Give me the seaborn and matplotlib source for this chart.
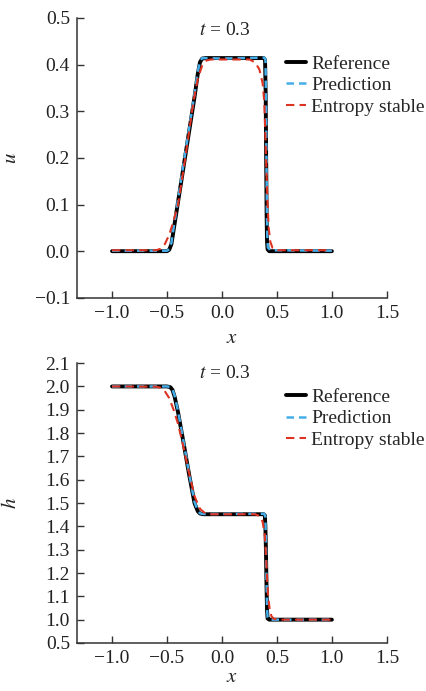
import numpy as np
import pandas as pd
import matplotlib
matplotlib.use('Agg')
import matplotlib.pyplot as plt
import seaborn as sns

# --- values (t = 0.3) ---
# velocity u
u_ref_x = [-1.0, -0.50, -0.48, -0.46, -0.44, -0.40, -0.35, -0.30, -0.25, -0.22, -0.20, -0.18, -0.15,
           0.38, 0.392, 0.398, 0.402, 0.406, 0.41, 0.415, 0.43, 1.0]
u_ref_y = [0.0, 0.0, 0.003, 0.015, 0.045, 0.105, 0.18, 0.255, 0.33, 0.38, 0.405, 0.413, 0.414,
           0.414, 0.41, 0.33, 0.2, 0.08, 0.02, 0.004, 0.0, 0.0]
u_pred_x = [-1.0, -0.50, -0.48, -0.46, -0.44, -0.40, -0.35, -0.30, -0.25, -0.22, -0.20, -0.18, 0.0,
            0.385, 0.396, 0.401, 0.405, 0.409, 0.413, 0.418, 0.44, 1.0]
u_pred_y = [0.001, 0.001, 0.004, 0.018, 0.05, 0.11, 0.187, 0.262, 0.337, 0.385, 0.407, 0.414, 0.413,
            0.415, 0.41, 0.32, 0.19, 0.08, 0.025, 0.008, 0.002, 0.001]
u_es_x = [-1.0, -0.60, -0.56, -0.52, -0.48, -0.44, -0.40, -0.34, -0.30, -0.26, -0.22, -0.18, -0.14,
          -0.10, 0.25, 0.30, 0.34, 0.37, 0.385, 0.395, 0.405, 0.415, 0.425, 0.44, 0.46, 0.50, 1.0]
u_es_y = [0.002, 0.002, 0.005, 0.015, 0.035, 0.065, 0.10, 0.19, 0.255, 0.32, 0.37, 0.398, 0.409,
          0.411, 0.411, 0.405, 0.39, 0.36, 0.32, 0.25, 0.17, 0.10, 0.05, 0.02, 0.007, 0.002, 0.002]

# depth h
h_ref_x = [-1.0, -0.50, -0.47, -0.45, -0.43, -0.40, -0.35, -0.30, -0.25, -0.22, -0.20, -0.17,
           0.38, 0.39, 0.395, 0.40, 0.405, 0.41, 0.415, 0.43, 1.0]
h_ref_y = [2.0, 2.0, 1.997, 1.985, 1.955, 1.89, 1.76, 1.625, 1.50, 1.465, 1.455, 1.452,
           1.452, 1.447, 1.40, 1.30, 1.15, 1.04, 1.005, 1.0, 1.0]
h_pred_x = [-1.0, -0.50, -0.47, -0.45, -0.43, -0.40, -0.35, -0.30, -0.25, -0.22, -0.20, -0.17,
            0.385, 0.395, 0.40, 0.405, 0.41, 0.415, 0.42, 0.44, 1.0]
h_pred_y = [2.0, 2.0, 1.998, 1.988, 1.96, 1.895, 1.765, 1.63, 1.505, 1.468, 1.456, 1.453,
            1.454, 1.44, 1.33, 1.17, 1.05, 1.01, 1.003, 1.0, 1.0]
h_es_x = [-1.0, -0.60, -0.56, -0.52, -0.48, -0.44, -0.40, -0.35, -0.30, -0.25, -0.20, -0.15, -0.10,
          0.30, 0.34, 0.37, 0.39, 0.40, 0.41, 0.42, 0.435, 0.45, 0.47, 0.52, 1.0]
h_es_y = [2.0, 1.999, 1.995, 1.98, 1.95, 1.90, 1.84, 1.74, 1.63, 1.53, 1.475, 1.455, 1.452,
          1.452, 1.445, 1.42, 1.36, 1.28, 1.18, 1.10, 1.04, 1.015, 1.004, 1.0, 1.0]

x_ticks = [-1.0, -0.5, 0.0, 0.5, 1.0, 1.5]
u_ticks = [-0.1, 0.0, 0.1, 0.2, 0.3, 0.4, 0.5]
h_ticks = [0.9, 1.0, 1.1, 1.2, 1.3, 1.4, 1.5, 1.6, 1.7, 1.8, 1.9, 2.0, 2.1]
h_tick_labels = ['0.5', '1.0', '1.1', '1.2', '1.3', '1.4', '1.5', '1.6', '1.7', '1.8', '1.9', '2.0', '2.1']

sns.set_style('ticks')
plt.rcParams['font.family'] = ['Liberation Serif', 'DejaVu Serif']
plt.rcParams['mathtext.fontset'] = 'stix'

c_ref, c_pred, c_es = 'black', '#45aee8', '#dd3322'
axc = '#333333'

fig = plt.figure(figsize=(4.27, 6.91), dpi=100)
ax1 = fig.add_axes([0.180, 0.569, 0.726, 0.405])
ax2 = fig.add_axes([0.180, 0.0695, 0.726, 0.405])


def draw(ax, rx, ry, px, py, ex, ey):
    sns.lineplot(x=rx, y=ry, ax=ax, color=c_ref, lw=2.8, label='Reference', sort=False)
    sns.lineplot(x=px, y=py, ax=ax, color=c_pred, lw=1.8, label='Prediction', sort=False,
                 dashes=False, linestyle=(0, (3, 2)))
    sns.lineplot(x=ex, y=ey, ax=ax, color=c_es, lw=1.5, label='Entropy stable', sort=False,
                 dashes=False, linestyle=(0, (4, 2.5)))


draw(ax1, u_ref_x, u_ref_y, u_pred_x, u_pred_y, u_es_x, u_es_y)
draw(ax2, h_ref_x, h_ref_y, h_pred_x, h_pred_y, h_es_x, h_es_y)

for ax, ylab, ticks, labels, ylim, leg_y, t_y, xpad in [
        (ax1, 'u', u_ticks, ['%.1f' % v for v in u_ticks], (-0.1, 0.5), 0.867, 0.955, 5),
        (ax2, 'h', h_ticks, h_tick_labels, (0.9, 2.1), 0.91, 0.963, 1)]:
    ax.set_xlim(-1.32, 1.5)
    ax.set_ylim(*ylim)
    ax.set_xticks(x_ticks)
    ax.set_xticklabels(['%.1f' % v if v >= 0 else '\u2212%.1f' % -v for v in x_ticks])
    ax.set_yticks(ticks)
    ax.set_yticklabels([l if not l.startswith('-') else '\u2212' + l[1:] for l in labels])
    ax.tick_params(direction='in', length=5, width=1, color=axc, labelsize=14,
                   labelcolor='#222222', pad=5)
    for s in ['top', 'right']:
        ax.spines[s].set_visible(False)
    for s in ['left', 'bottom']:
        ax.spines[s].set_color(axc)
        ax.spines[s].set_linewidth(1.1)
    ax.set_xlabel('$x$', fontsize=15, labelpad=xpad, color='#222222')
    ax.set_ylabel('$' + ylab + '$', fontsize=15, color='#222222')
    ax.yaxis.set_label_coords(-0.18, 0.5)
    ax.text(0.03, ylim[0] + t_y * (ylim[1] - ylim[0]), '$t$ = 0.3', fontsize=14,
            ha='center', va='center', color='#222222')
    ax.legend(loc='upper left', bbox_to_anchor=(0.675, leg_y), frameon=False, fontsize=14,
              handlelength=1.0, handletextpad=0.3, labelspacing=0.2, borderpad=0,
              borderaxespad=0)

fig.savefig('out.png', dpi=100)
